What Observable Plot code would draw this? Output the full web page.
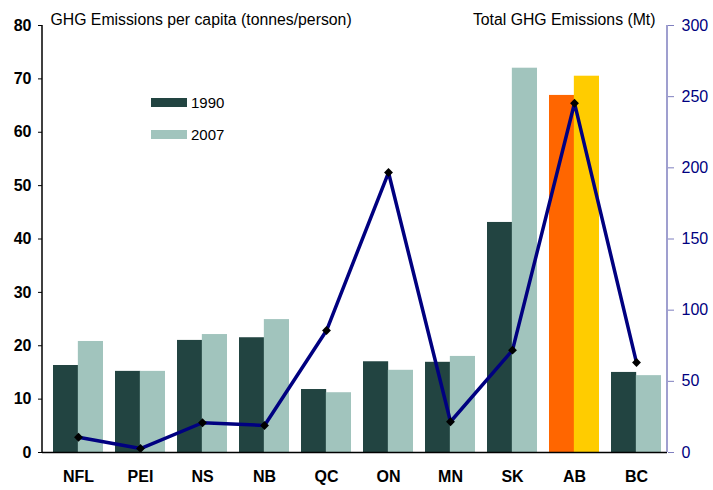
<!DOCTYPE html>
<html>
<head>
<meta charset="utf-8">
<script src="https://cdn.jsdelivr.net/npm/d3@7"></script>
<script src="https://cdn.jsdelivr.net/npm/@observablehq/plot@0.6"></script>
<style>
  body { margin: 0; background: #fff; }
  #wrap { position: relative; width: 713px; height: 490px; font-family: "Liberation Sans", Arial, sans-serif; }
  .lg { position: absolute; display: flex; align-items: center; font-size: 15px; color: #000; }
  .sw { width: 36px; height: 9px; margin-right: 4px; }
</style>
</head>
<body>
<div id="wrap"></div>
<script>
const cats = ["NFL", "PEI", "NS", "NB", "QC", "ON", "MN", "SK", "AB", "BC"];
const perCapita1990 = [16.3, 15.2, 21.0, 21.5, 11.8, 17.0, 16.9, 43.1, 66.9, 15.0];
const perCapita2007 = [20.8, 15.2, 22.1, 24.9, 11.2, 15.4, 18.0, 72.0, 70.5, 14.4];
const totalMt = [10.7, 2.8, 20.9, 19.0, 85.7, 196.7, 21.6, 71.9, 245.4, 63.2];
const leftTicks = [0, 10, 20, 30, 40, 50, 60, 70, 80];
const rightTicks = [0, 50, 100, 150, 200, 250, 300];
const series = ["1990", "2007"];

const c1990 = "#224441", c2007 = "#a1c4bd", cAB1990 = "#ff6600", cAB2007 = "#ffcc00";
const lineColor = "#000080";
const ratio = 80 / 300;

const rows = cats.map((c, i) => ({cat: c, v1990: perCapita1990[i], v2007: perCapita2007[i], total: totalMt[i]}));

const W = 713, H = 490, mL = 42, mR = 46, mT = 25, mB = 38;
const xr = [46, 667];
const step = (xr[1] - xr[0]) / (cats.length - 0.2 + 0.2);
const half = step * 0.8 / 2;
const font = "'Liberation Sans', Arial, sans-serif";

const plot = Plot.plot({
  width: W, height: H,
  marginLeft: mL, marginRight: mR, marginTop: mT, marginBottom: mB,
  style: {fontFamily: font, background: "#fff", overflow: "visible"},
  x: {domain: cats, range: xr, paddingInner: 0.2, paddingOuter: 0.1, align: 0.5},
  y: {domain: [0, 80]},
  color: {type: "identity"},
  marks: [
    Plot.barY(rows, {x: "cat", y: "v1990", fill: d => d.cat === "AB" ? cAB1990 : c1990, insetRight: half}),
    Plot.barY(rows, {x: "cat", y: "v2007", fill: d => d.cat === "AB" ? cAB2007 : c2007, insetLeft: half}),
    Plot.ruleY([0], {stroke: "#000", strokeWidth: 1.5}),
    Plot.line(rows, {x: "cat", y: d => d.total * ratio, stroke: lineColor, strokeWidth: 3.5}),
    Plot.dot(rows, {x: "cat", y: d => d.total * ratio, symbol: "diamond2", fill: "#000", r: 4}),
    Plot.axisY(leftTicks, {anchor: "left", tickSize: 4, tickPadding: 7, fontSize: 16, fontWeight: "bold", stroke: "#000", fill: "#000", label: null}),
    Plot.axisY(rightTicks.map(v => v * ratio), {anchor: "right", tickSize: 6, tickPadding: 8, fontSize: 16, stroke: "#7f7fbf", fill: lineColor, tickFormat: d => Math.round(d / ratio), label: null}),
    Plot.axisX({anchor: "bottom", tickSize: 0, tickPadding: 18, fontSize: 16, fontWeight: "bold", fill: "#000", label: null}),
    Plot.text(["GHG Emissions per capita (tonnes/person)"], {frameAnchor: "top-left", dx: 8, dy: -12, textAnchor: "start", fontSize: 15.8, fill: "#000"}),
    Plot.text(["Total GHG Emissions (Mt)"], {frameAnchor: "top-right", dx: -12, dy: -12, textAnchor: "end", fontSize: 15.8, fill: "#000"})
  ]
});

// axis lines at frame edges, positioned from the plot's y scale
const ys = plot.scale("y").range;
const svg = d3.select(plot);
svg.append("line").attr("x1", mL).attr("x2", mL).attr("y1", ys[0]).attr("y2", ys[1]).attr("stroke", "#000").attr("stroke-width", 1.5);
svg.append("line").attr("x1", W - mR).attr("x2", W - mR).attr("y1", ys[0]).attr("y2", ys[1]).attr("stroke", "#7f7fbf").attr("stroke-width", 1.5);

const wrap = document.getElementById("wrap");
wrap.appendChild(plot);

// legend
const legendColors = [c1990, c2007];
const legendTops = [98, 130];
series.forEach((s, i) => {
  const d = document.createElement("div");
  d.className = "lg";
  d.style.left = "151px";
  d.style.top = (legendTops[i] - 5) + "px";
  d.style.height = "19px";
  d.innerHTML = `<div class="sw" style="background:${legendColors[i]}"></div><span>${s}</span>`;
  wrap.appendChild(d);
});
</script>
</body>
</html>
